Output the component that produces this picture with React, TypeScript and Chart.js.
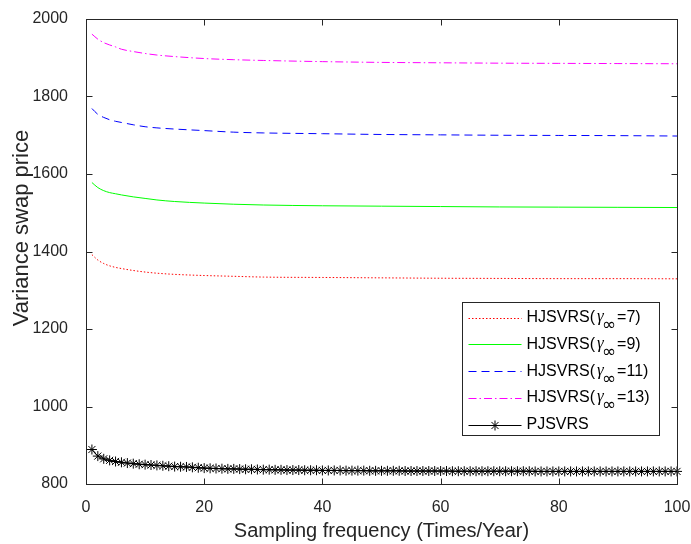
import React, { useEffect, useRef } from 'react';
import { Chart, registerables } from 'chart.js';

Chart.register(...registerables);

// ---- data ----
const xTicks = [0, 20, 40, 60, 80, 100];
const yTicks = [800, 1000, 1200, 1400, 1600, 1800, 2000];

const hjX = [1, 2, 3, 4, 5, 6, 8, 10, 12, 15, 20, 25, 30, 40, 50, 60, 70, 80, 90, 100];
const hj7 = [1392, 1378, 1369, 1363, 1359, 1356, 1351, 1347, 1344, 1341, 1338, 1336, 1334, 1333, 1332, 1331, 1330.5, 1330, 1330, 1329.5];
const hj9 = [1578, 1565, 1557, 1552, 1549, 1546, 1541, 1537, 1533, 1529, 1525, 1522, 1520, 1518, 1517, 1516, 1515, 1514.5, 1514, 1513.5];
const hj11 = [1769, 1754, 1746, 1740, 1736, 1733, 1727, 1722, 1719, 1716, 1712, 1708, 1706, 1704, 1702, 1701, 1700, 1699.5, 1699, 1698];
const hj13 = [1961, 1948, 1939, 1933, 1928, 1922, 1916, 1911, 1907, 1903, 1898, 1895, 1893, 1890, 1888, 1887, 1886, 1885.5, 1885, 1884.5];

const pjX = [
  1, 2, 3, 4, 5, 6, 7, 8, 9, 10, 11, 12, 13, 14, 15, 16, 17, 18, 19, 20,
  21, 22, 23, 24, 25, 26, 27, 28, 29, 30, 31, 32, 33, 34, 35, 36, 37, 38, 39, 40,
  41, 42, 43, 44, 45, 46, 47, 48, 49, 50, 51, 52, 53, 54, 55, 56, 57, 58, 59, 60,
  61, 62, 63, 64, 65, 66, 67, 68, 69, 70, 71, 72, 73, 74, 75, 76, 77, 78, 79, 80,
  81, 82, 83, 84, 85, 86, 87, 88, 89, 90, 91, 92, 93, 94, 95, 96, 97, 98, 99, 100,
];
const pjY = [
  889, 872, 865, 861, 858, 856, 854, 852.5, 851, 850, 849, 848, 847, 846, 845, 844.5, 844, 843, 842, 841,
  840.5, 840, 839.5, 839, 839, 838.5, 838, 838, 837.5, 837, 837, 836.5, 836.5, 836, 836, 836, 835.5, 835.5, 835.5, 835,
  835, 835, 835, 834.5, 834.5, 834.5, 834.5, 834, 834, 834, 834, 834, 834, 833.5, 833.5, 833.5, 833.5, 833.5, 833.5, 833.5,
  833.5, 833, 833, 833, 833, 833, 833, 833, 833, 833, 833, 833, 833, 833, 833, 832.5, 832.5, 832.5, 832.5, 832.5,
  832.5, 832.5, 832.5, 832.5, 832.5, 832.5, 832.5, 832.5, 832.5, 832.5, 832.5, 832.5, 832.5, 832.5, 832.5, 832.5, 832.5, 832.5, 832.5, 832.5,
];

const gammaValues = ['7', '9', '11', '13'];
const pjLabel = 'PJSVRS';
const xTitle = 'Sampling frequency (Times/Year)';
const yTitle = 'Variance swap price';

const FONT = '"Liberation Sans", Arial, Helvetica, sans-serif';
const AXIS_COLOR = '#262626';

const seriesStyles = [
  { color: '#ff0000', dash: [1.5, 2] },
  { color: '#00ff00', dash: [] as number[] },
  { color: '#0000ff', dash: [8, 5] },
  { color: '#ff00ff', dash: [8, 3, 1.5, 3] },
];

function drawStar(ctx: CanvasRenderingContext2D, x: number, y: number, r: number) {
  ctx.beginPath();
  for (let k = 0; k < 4; k++) {
    const a = (k * Math.PI) / 4;
    ctx.moveTo(x - r * Math.cos(a), y - r * Math.sin(a));
    ctx.lineTo(x + r * Math.cos(a), y + r * Math.sin(a));
  }
  ctx.stroke();
}

const framePlugin = {
  id: 'matlabFrame',
  afterDraw(chart: any) {
    const { ctx, chartArea: ca, scales } = chart;
    const xs = scales.x;
    const ys = scales.y;
    ctx.save();
    ctx.strokeStyle = AXIS_COLOR;
    ctx.lineWidth = 1;
    ctx.setLineDash([]);
    const L = Math.round(ca.left) + 0.5;
    const R = Math.round(ca.right) + 0.5;
    const T = Math.round(ca.top) + 0.5;
    const B = Math.round(ca.bottom) + 0.5;
    ctx.strokeRect(L, T, R - L, B - T);
    ctx.beginPath();
    for (const v of xTicks) {
      const px = Math.round(xs.getPixelForValue(v)) + 0.5;
      ctx.moveTo(px, B);
      ctx.lineTo(px, B - 6);
      ctx.moveTo(px, T);
      ctx.lineTo(px, T + 6);
    }
    for (const v of yTicks) {
      const py = Math.round(ys.getPixelForValue(v)) + 0.5;
      ctx.moveTo(L, py);
      ctx.lineTo(L + 6, py);
      ctx.moveTo(R, py);
      ctx.lineTo(R - 6, py);
    }
    ctx.stroke();

    // y-axis title
    ctx.save();
    ctx.translate(22, ca.top + 209);
    ctx.rotate(-Math.PI / 2);
    ctx.fillStyle = AXIS_COLOR;
    ctx.font = `22px ${FONT}`;
    ctx.textAlign = 'center';
    ctx.textBaseline = 'middle';
    ctx.fillText(yTitle, 0, 0);
    ctx.restore();

    // legend
    const bw = 197;
    const bh = 133;
    const bl = Math.round(ca.right - 18 - bw) + 0.5;
    const bt = Math.round(ca.bottom - 49 - bh) + 0.5;
    ctx.fillStyle = '#ffffff';
    ctx.fillRect(bl, bt, bw, bh);
    ctx.strokeStyle = AXIS_COLOR;
    ctx.strokeRect(bl, bt, bw, bh);

    const rowY = (i: number) => bt + 15 + i * 26.8;
    const lineX0 = bl + 6;
    const lineX1 = bl + 59;
    const textX = bl + 64;
    ctx.textBaseline = 'middle';
    ctx.textAlign = 'left';

    gammaValues.forEach((g, i) => {
      const y = rowY(i);
      const st = seriesStyles[i];
      ctx.strokeStyle = st.color;
      ctx.lineWidth = 1;
      ctx.setLineDash(st.dash);
      ctx.beginPath();
      ctx.moveTo(lineX0, Math.round(y) + 0.5);
      ctx.lineTo(lineX1, Math.round(y) + 0.5);
      ctx.stroke();
      ctx.setLineDash([]);

      ctx.fillStyle = '#000000';
      ctx.font = `16px ${FONT}`;
      const pre = 'HJSVRS(';
      ctx.fillText(pre, textX, y);
      let x = textX + ctx.measureText(pre).width + 2;
      ctx.font = `italic 17px "Liberation Serif", "DejaVu Serif", serif`;
      ctx.fillText('γ', x, y - 1);
      const gx = x;
      x = gx + 5;
      ctx.font = `17px "DejaVu Sans", sans-serif`;
      ctx.fillText('∞', x, y + 8);
      x += ctx.measureText('∞').width + 1;
      ctx.font = `16px ${FONT}`;
      ctx.fillText('=' + g + ')', x, y);
    });

    const y5 = rowY(4);
    ctx.strokeStyle = '#000000';
    ctx.lineWidth = 1;
    ctx.beginPath();
    ctx.moveTo(lineX0, Math.round(y5) + 0.5);
    ctx.lineTo(lineX1, Math.round(y5) + 0.5);
    ctx.stroke();
    drawStar(ctx, (lineX0 + lineX1) / 2, Math.round(y5) + 0.5, 5);
    ctx.fillStyle = '#000000';
    ctx.font = `16px ${FONT}`;
    ctx.fillText(pjLabel, textX, y5);
    ctx.restore();
  },
};

function zeroPadding(s: any) {
  s.paddingLeft = 0;
  s.paddingRight = 0;
  s.paddingTop = 0;
  s.paddingBottom = 0;
}

export default function App() {
  const ref = useRef<HTMLCanvasElement | null>(null);

  useEffect(() => {
    if (!ref.current) return;
    const hjSeries = [hj7, hj9, hj11, hj13];
    const datasets: any[] = hjSeries.map((vals, i) => ({
      label: 'HJSVRS(γ∞=' + gammaValues[i] + ')',
      data: hjX.map((x, j) => ({ x, y: vals[j] })),
      borderColor: seriesStyles[i].color,
      borderDash: seriesStyles[i].dash,
      borderWidth: 1,
      pointRadius: 0,
      fill: false,
      cubicInterpolationMode: 'monotone',
    }));
    datasets.push({
      label: pjLabel,
      data: pjX.map((x, j) => ({ x, y: pjY[j] })),
      borderColor: '#000000',
      backgroundColor: '#000000',
      borderWidth: 1,
      pointStyle: 'star',
      pointRadius: 5,
      pointBorderWidth: 1,
      pointBorderColor: '#000000',
      fill: false,
      clip: false,
    });

    const chart = new Chart(ref.current, {
      type: 'line',
      data: { datasets },
      options: {
        responsive: false,
        animation: false,
        layout: { padding: { left: 0, right: 14, top: 19, bottom: 0 } },
        plugins: { legend: { display: false }, tooltip: { enabled: false } },
        scales: {
          x: {
            type: 'linear',
            min: 0,
            max: 100,
            afterBuildTicks: (s: any) => {
              s.ticks = xTicks.map((v) => ({ value: v }));
            },
            grid: { display: false, drawTicks: false },
            border: { display: false },
            ticks: {
              font: { size: 16, family: FONT },
              color: AXIS_COLOR,
              padding: 14,
              maxRotation: 0,
              autoSkip: false,
              callback: (v: any) => String(v),
            },
            title: {
              display: true,
              text: xTitle,
              font: { size: 20, family: FONT },
              color: AXIS_COLOR,
              padding: { top: 0, bottom: 1 },
            },
            afterFit: (s: any) => {
              s.height = 60;
              zeroPadding(s);
            },
          },
          y: {
            type: 'linear',
            min: 800,
            max: 2000,
            afterBuildTicks: (s: any) => {
              s.ticks = yTicks.map((v) => ({ value: v }));
            },
            grid: { display: false, drawTicks: false },
            border: { display: false },
            ticks: {
              font: { size: 16, family: FONT },
              color: AXIS_COLOR,
              padding: 18,
              autoSkip: false,
              callback: (v: any) => String(v),
            },
            title: { display: false, text: yTitle },
            afterFit: (s: any) => {
              s.width = 86;
              zeroPadding(s);
            },
          },
        },
      },
      plugins: [framePlugin],
    } as any);
    return () => chart.destroy();
  }, []);

  return (
    <div style={{ position: 'absolute', left: 0, top: 0, width: 691, height: 544, background: '#fff' }}>
      <canvas ref={ref} width={691} height={544} style={{ display: 'block', width: 691, height: 544 }} />
    </div>
  );
}
